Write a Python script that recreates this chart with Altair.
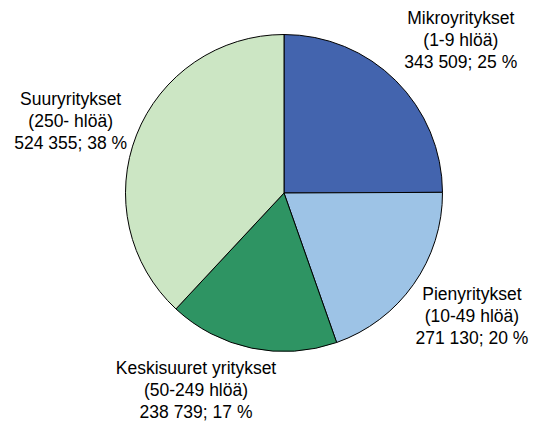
import altair as alt
import pandas as pd

categories = ["Mikroyritykset", "Pienyritykset", "Keskisuuret yritykset", "Suuryritykset"]
sizes = ["(1-9 hlöä)", "(10-49 hlöä)", "(50-249 hlöä)", "(250- hlöä)"]
values = [343509, 271130, 238739, 524355]
percents = [25, 20, 17, 38]
colors = ["#4364AE", "#9DC3E6", "#2E9463", "#CCE6C4"]

def fmt(v):
    return f"{v:,}".replace(",", " ")

df = pd.DataFrame({
    "cat": categories,
    "order": list(range(len(categories))),
    "value": values,
    "label": [f"{c}\n{s}\n{fmt(v)}; {p} %" for c, s, v, p in zip(categories, sizes, values, percents)],
})

base = alt.Chart(df)

pie = base.mark_arc(outerRadius=158.5, stroke="black", strokeWidth=1).encode(
    theta=alt.Theta("value:Q", stack=True),
    order=alt.Order("order:Q"),
    color=alt.Color("cat:N", scale=alt.Scale(domain=categories, range=colors), legend=None),
)

offsets = {
    "Mikroyritykset": (18, -15),
    "Pienyritykset": (4, -28),
    "Keskisuuret yritykset": (-42, -44),
    "Suuryritykset": (-4, -11),
}

layers = [pie]
for cat in categories:
    dx, dy = offsets[cat]
    t = base.mark_text(
        radius=225, dx=dx, dy=dy, align="center", baseline="middle",
        lineBreak="\n", lineHeight=22, fontSize=17.5, font="Liberation Sans", color="black",
    ).encode(
        theta=alt.Theta("value:Q", stack=True),
        order=alt.Order("order:Q"),
        text=alt.condition(f"datum.cat == '{cat}'", "label:N", alt.value("")),
    )
    layers.append(t)

chart = alt.layer(*layers).properties(
    width=400, height=360,
    autosize=alt.AutoSizeParams(type="none"),
    padding={"left": 76, "top": 5, "right": 47, "bottom": 50},
    background="white",
).configure_view(stroke=None)

chart.save("out.html", embed_options={"renderer": "svg", "actions": False})
